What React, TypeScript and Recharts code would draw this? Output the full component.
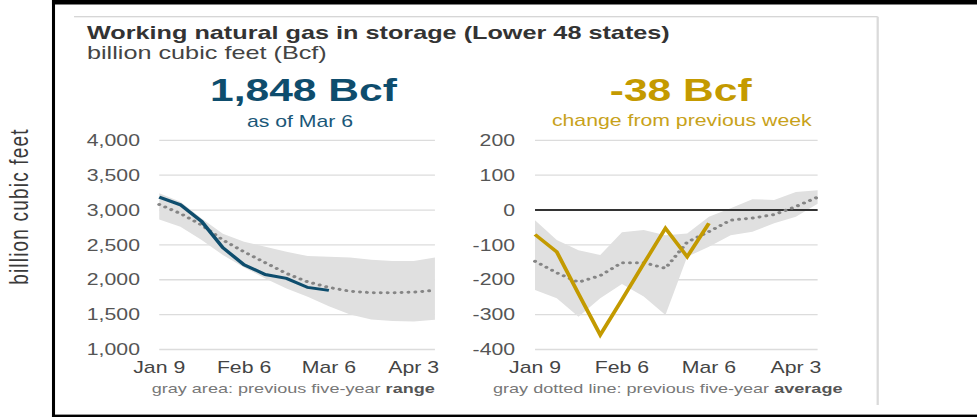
import React from 'react';
import { ComposedChart, Area, Line, XAxis, YAxis, CartesianGrid, ReferenceLine } from 'recharts';

// weekly report dates
const weeks = ['Jan 9', 'Jan 16', 'Jan 23', 'Jan 30', 'Feb 6', 'Feb 13', 'Feb 20', 'Feb 27', 'Mar 6', 'Mar 13', 'Mar 20', 'Mar 27', 'Apr 3', 'Apr 10'];
const tickLabels = ['Jan 9', 'Feb 6', 'Mar 6', 'Apr 3'];

// working gas in storage, Bcf
const storage = [3185, 3075, 2835, 2460, 2215, 2075, 2020, 1890, 1848];
const storageAvg = [3080, 2950, 2785, 2570, 2400, 2245, 2090, 1970, 1890, 1835, 1815, 1813, 1823, 1848];
const storageLow = [2866, 2761, 2569, 2354, 2177, 2019, 1876, 1756, 1622, 1502, 1431, 1410, 1400, 1425];
const storageHigh = [3240, 3120, 2880, 2660, 2545, 2474, 2402, 2340, 2330, 2321, 2288, 2268, 2268, 2320];
const storageTicks = [1000, 1500, 2000, 2500, 3000, 3500, 4000];

// net change from previous week, Bcf
const change = [-70, -120, -240, -358, -257, -154, -52, -134, -38];
const changeAvg = [-147, -180, -207, -188, -151, -151, -167, -92, -62, -29, -23, -13, 10, 37];
const changeLow = [-229, -253, -306, -253, -212, -248, -301, -134, -105, -72, -62, -38, -19, 18];
const changeHigh = [-29, -86, -115, -129, -64, -57, -72, -67, -19, 5, 31, 29, 52, 57];
const changeTicks = [-400, -300, -200, -100, 0, 100, 200];

// the source picture is stretched sideways, so the whole thing is drawn narrow and scaled
const STRETCH = 977 / 735;
const font = '"Liberation Sans", Arial, Helvetica, sans-serif';

const storageData = weeks.map((week, i) => ({
  idx: i,
  week,
  value: i < storage.length ? storage[i] : null,
  avg: storageAvg[i],
  range: [storageLow[i], storageHigh[i]],
}));

const changeData = weeks.map((week, i) => ({
  idx: i,
  week,
  value: i < change.length ? change[i] : null,
  avg: changeAvg[i],
  range: [changeLow[i], changeHigh[i]],
}));

const xTicks = tickLabels.map((l) => weeks.indexOf(l));

const xAxisProps = {
  type: 'number' as const,
  dataKey: 'idx',
  domain: [0, weeks.length - 1],
  ticks: xTicks,
  interval: 0 as const,
  tickFormatter: (i: number) => weeks[i],
  axisLine: false,
  tickLine: false,
  tickSize: 0,
  tickMargin: 12,
  height: 30.5,
  tick: { fill: '#444', fontSize: 16, fontFamily: font },
};

const yTick = { fill: '#555', fontSize: 16, fontFamily: font };

const StoragePanel = () => (
  <ComposedChart width={290} height={250} data={storageData} margin={{ top: 10.3, right: 12.8, bottom: 0, left: 0 }}>
    <CartesianGrid vertical={false} stroke="#dcdcdc" strokeWidth={1.3} />
    <XAxis {...xAxisProps} />
    <YAxis
      domain={[1000, 4000]}
      ticks={storageTicks}
      interval={0}
      width={69.8}
      axisLine={false}
      tickLine={false}
      tickSize={0}
      tickMargin={14.5}
      tickFormatter={(v: number) => v.toLocaleString('en-US')}
      tick={yTick}
    />
    <Area dataKey="range" fill="#e0e0e0" fillOpacity={1} stroke="none" isAnimationActive={false} />
    <Line dataKey="avg" stroke="#858585" strokeWidth={3} strokeDasharray="0.01 5.2" strokeLinecap="round" dot={false} isAnimationActive={false} />
    <Line dataKey="value" stroke="#0e4d6d" strokeWidth={3} dot={false} isAnimationActive={false} />
  </ComposedChart>
);

const ChangePanel = () => (
  <ComposedChart width={300} height={250} data={changeData} margin={{ top: 10.3, right: 29.9, bottom: 0, left: 0 }}>
    <CartesianGrid vertical={false} stroke="#dcdcdc" strokeWidth={1.3} />
    <XAxis {...xAxisProps} />
    <YAxis
      domain={[-400, 200]}
      ticks={changeTicks}
      interval={0}
      width={57.5}
      axisLine={false}
      tickLine={false}
      tickSize={0}
      tickMargin={15}
      tick={yTick}
    />
    <Area dataKey="range" fill="#e0e0e0" fillOpacity={1} stroke="none" isAnimationActive={false} />
    <ReferenceLine y={0} stroke="#333" strokeWidth={2} />
    <Line dataKey="avg" stroke="#858585" strokeWidth={3} strokeDasharray="0.01 5.2" strokeLinecap="round" dot={false} isAnimationActive={false} />
    <Line dataKey="value" stroke="#c39a00" strokeWidth={3} dot={false} isAnimationActive={false} />
  </ComposedChart>
);

export default function App() {
  return (
    <div style={{ position: 'absolute', left: 0, top: 0, width: 977, height: 417, overflow: 'hidden', background: '#fff', fontFamily: font }}>
      <div style={{ position: 'absolute', left: 0, top: 0, width: 735, height: 417, transform: `scaleX(${STRETCH})`, transformOrigin: '0 0' }}>
        <svg width={735} height={417} style={{ position: 'absolute', left: 0, top: 0 }} fontFamily={font}>
          {/* frame */}
          <rect x={39.1} y={0} width={695.9} height={4.5} fill="#000" />
          <rect x={39.1} y={0} width={2.3} height={417} fill="#000" />
          <rect x={39.1} y={414.6} width={695.9} height={2.4} fill="#000" />
          <line x1={55.7} y1={16.7} x2={660.3} y2={16.7} stroke="#c8c8c8" strokeWidth={1} />
          <line x1={660.3} y1={16.7} x2={660.3} y2={405} stroke="#dadada" strokeWidth={1.7} />

          <text transform="translate(21,206.5) rotate(-90)" textAnchor="middle" fontSize={19} letterSpacing={1.2} fill="#3a3a3a">
            billion cubic feet
          </text>

          <text x={65.4} y={39} fontSize={19} fontWeight="bold" fill="#333">
            Working natural gas in storage (Lower 48 states)
          </text>
          <text x={65.4} y={59.3} fontSize={19} fill="#444">
            billion cubic feet (Bcf)
          </text>

          <text x={228.3} y={100.7} textAnchor="middle" fontSize={32} fontWeight="bold" fill="#0e4d6d">
            1,848 Bcf
          </text>
          <text x={225.7} y={127} textAnchor="middle" fontSize={16} fill="#1a5778">
            as of Mar 6
          </text>
          <text x={512.1} y={100.7} textAnchor="middle" fontSize={32} fontWeight="bold" fill="#c49a00">
            -38 Bcf
          </text>
          <text x={512.9} y={126} textAnchor="middle" fontSize={16} fill="#c8a21a">
            change from previous week
          </text>

          <text x={114.1} y={392.7} fontSize={13.6} fill="#777">
            gray area: previous five-year <tspan fontWeight="bold" fill="#555">range</tspan>
          </text>
          <text x={370.9} y={392.7} fontSize={13.6} fill="#777">
            gray dotted line: previous five-year <tspan fontWeight="bold" fill="#555">average</tspan>
          </text>
        </svg>

        <div style={{ position: 'absolute', left: 50, top: 130 }}>
          <StoragePanel />
        </div>
        <div style={{ position: 'absolute', left: 345, top: 130 }}>
          <ChangePanel />
        </div>
      </div>
    </div>
  );
}
